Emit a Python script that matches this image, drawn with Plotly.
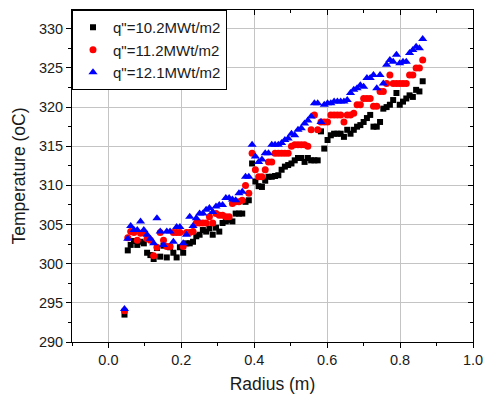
import plotly.graph_objects as go

# Radial measurement positions (m), shared by all three heat-flux runs
radius = [0.044, 0.053, 0.061, 0.070, 0.079, 0.088, 0.097, 0.106, 0.115, 0.124,
          0.133, 0.142, 0.151, 0.160, 0.169, 0.178, 0.187, 0.196, 0.205, 0.214,
          0.223, 0.232, 0.241, 0.250, 0.259, 0.268, 0.277, 0.286, 0.295, 0.304,
          0.313, 0.322, 0.331, 0.340, 0.349, 0.358, 0.367, 0.376, 0.385, 0.394,
          0.403, 0.412, 0.421, 0.430, 0.439, 0.448, 0.457, 0.466, 0.475, 0.484,
          0.493, 0.502, 0.511, 0.520, 0.529, 0.538, 0.547, 0.556, 0.565, 0.574,
          0.583, 0.592, 0.601, 0.610, 0.619, 0.628, 0.637, 0.646, 0.655, 0.664,
          0.673, 0.682, 0.691, 0.700, 0.709, 0.718, 0.727, 0.736, 0.745, 0.754,
          0.763, 0.772, 0.781, 0.790, 0.799, 0.808, 0.817, 0.826, 0.835, 0.844,
          0.853, 0.862]

# Temperature (oC) for q"=10.2 MWt/m2
temp_10_2 = [293.5, 301.7, 302.4, 302.9, 302.4, 302.8, 302.6, 301.4, 301.1, 300.6,
             302.0, 300.9, 302.3, 300.8, 302.1, 301.4, 300.8, 302.1, 301.4, 302.6,
             302.6, 302.8, 303.5, 303.7, 304.3, 304.1, 304.5, 303.7, 304.6, 304.1,
             305.2, 305.4, 305.6, 305.4, 306.4, 306.4, 306.4, 307.9, 308.1, 312.8,
             310.5, 309.9, 309.8, 310.6, 311.1, 311.1, 311.2, 311.3, 312.0, 312.4,
             312.6, 312.8, 313.2, 313.5, 313.5, 313.0, 313.5, 313.2, 313.2, 313.2,
             316.9, 314.7, 315.8, 316.4, 316.6, 316.6, 316.6, 316.2, 317.1, 316.6,
             317.1, 317.5, 317.7, 318.1, 318.6, 319.0, 317.5, 317.5, 318.1, 319.8,
             320.0, 320.3, 320.9, 321.8, 320.3, 320.7, 321.1, 321.5, 321.3, 322.2,
             322.0, 323.3]

# Temperature (oC) for q"=11.2 MWt/m2
temp_11_2 = [294.0, 303.3, 304.1, 304.0, 303.0, 303.9, 304.0, 303.2, 303.0, 301.0,
             302.1, 304.0, 303.0, 302.2, 302.2, 304.0, 304.0, 304.0, 302.2, 304.0,
             304.0, 304.1, 305.2, 305.2, 305.2, 305.2, 306.0, 305.2, 306.4, 306.2,
             306.2, 306.0, 306.0, 307.7, 307.9, 307.9, 308.1, 310.0, 309.0, 314.1,
             312.0, 311.1, 311.1, 312.0, 313.0, 313.0, 314.1, 314.1, 314.1, 314.1,
             314.1, 315.0, 315.2, 315.2, 315.2, 315.2, 315.0, 317.1, 319.0, 317.1,
             318.1, 318.1, 318.1, 319.0, 319.0, 319.0, 319.0, 318.1, 319.0, 319.0,
             319.2, 320.3, 320.3, 321.1, 321.1, 321.1, 320.1, 320.1, 322.0, 322.0,
             323.0, 324.1, 323.0, 323.0, 323.0, 323.0, 323.0, 324.1, 324.1, 325.0,
             325.0, 326.0]

# Temperature (oC) for q"=12.1 MWt/m2
temp_12_1 = [294.2, 303.2, 304.8, 304.3, 304.3, 305.4, 304.3, 303.7, 303.2, 302.6,
             305.8, 304.1, 302.4, 304.1, 304.1, 302.8, 304.7, 304.7, 302.6, 303.7,
             306.0, 304.8, 305.8, 306.4, 306.4, 306.9, 307.1, 306.6, 307.3, 307.5,
             307.5, 308.4, 308.4, 308.2, 308.1, 309.0, 309.2, 311.1, 311.1, 315.2,
             313.7, 313.0, 313.3, 314.1, 314.1, 315.2, 315.2, 315.2, 315.4, 315.8,
             316.0, 316.6, 316.4, 317.1, 317.3, 317.9, 318.3, 318.8, 320.5, 320.5,
             318.1, 320.3, 320.5, 320.5, 320.7, 320.7, 320.7, 320.7, 320.9, 321.8,
             322.2, 322.4, 322.8, 322.6, 323.7, 323.7, 324.1, 322.4, 324.1, 323.0,
             325.4, 326.0, 325.8, 326.7, 325.6, 325.8, 325.8, 326.9, 327.3, 327.7,
             327.5, 328.7]

series = [
    ('q"=10.2MWt/m2', temp_10_2, "#000000", "square", 6),
    ('q"=11.2MWt/m2', temp_11_2, "#ff0000", "circle", 7),
    ('q"=12.1MWt/m2', temp_12_1, "#0000ff", "triangle-up", 8),
]

fig = go.Figure()
for name, temps, color, symbol, size in series:
    fig.add_trace(go.Scatter(
        x=radius, y=temps, mode="markers", name=name,
        marker=dict(symbol=symbol, size=size, color=color, line=dict(width=0)),
    ))

font_family = "Liberation Sans, Arial, sans-serif"
text_color = "#1a1a1a"
x_range = [-0.1, 1.0]
y_range = [290, 332.4]

axis_common = dict(
    showline=True, linecolor="black", linewidth=1,
    ticks="outside", ticklen=5, tickwidth=1, tickcolor="black",
    tickfont=dict(family=font_family, size=14.5, color=text_color),
    showgrid=True, gridcolor="#c4c4c4", gridwidth=1,
    zeroline=False, automargin=False, ticklabeloverflow="allow",
)

fig.update_layout(
    width=483, height=401,
    margin=dict(l=72, r=10, t=10, b=59),
    paper_bgcolor="white", plot_bgcolor="white",
    font=dict(family=font_family, color=text_color),
    xaxis=dict(
        range=x_range, tick0=0, dtick=0.2, tickformat=".1f",
        minor=dict(dtick=0.1, tick0=0, ticks="outside", ticklen=3,
                   tickcolor="black", showgrid=False),
        title=dict(text="Radius (m)", font=dict(size=17.5, family=font_family),
                   standoff=10),
        **axis_common,
    ),
    yaxis=dict(
        range=y_range, tick0=290, dtick=5,
        minor=dict(dtick=2.5, tick0=290, ticks="outside", ticklen=3,
                   tickcolor="black", showgrid=False),
        title=dict(text="Temperature (oC)", font=dict(size=17.5, family=font_family),
                   standoff=8),
        **axis_common,
    ),
    # Top/right frame with inward ticks
    xaxis2=dict(
        overlaying="x", side="top", range=x_range, tick0=0, dtick=0.2,
        showline=True, linecolor="black", linewidth=1,
        ticks="inside", ticklen=5, tickcolor="black", showticklabels=False,
        minor=dict(dtick=0.1, tick0=0, ticks="inside", ticklen=3, tickcolor="black"),
        showgrid=False, zeroline=False, automargin=False,
    ),
    yaxis2=dict(
        overlaying="y", side="right", range=y_range, tick0=290, dtick=5,
        showline=True, linecolor="black", linewidth=1,
        ticks="inside", ticklen=5, tickcolor="black", showticklabels=False,
        minor=dict(dtick=2.5, tick0=290, ticks="inside", ticklen=3, tickcolor="black"),
        showgrid=False, zeroline=False, automargin=False,
    ),
    legend=dict(
        x=0, y=1, xanchor="left", yanchor="top",
        bgcolor="white", bordercolor="black", borderwidth=1,
        font=dict(family=font_family, size=15, color=text_color),
        itemsizing="trace", tracegroupgap=0,
    ),
    showlegend=True,
)

# Invisible anchor trace so the top/right axes are drawn
fig.add_trace(go.Scatter(x=[None], y=[None], xaxis="x2", yaxis="y2",
                         showlegend=False, hoverinfo="skip"))

fig.write_html("out.html")
